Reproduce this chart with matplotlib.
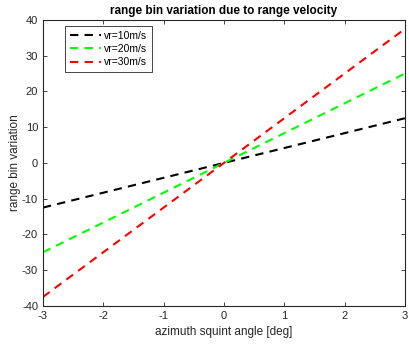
import matplotlib
matplotlib.use('Agg')
import numpy as np
import matplotlib.pyplot as plt

plt.rcParams['font.family'] = ['Liberation Sans', 'DejaVu Sans']
plt.rcParams['axes.unicode_minus'] = False

# squint angle [deg] and range bin variation for each radial velocity
squint = [-3, -2, -1, 0, 1, 2, 3]
bins_10 = [-12.5, -8.33, -4.17, 0, 4.17, 8.33, 12.5]
bins_20 = [-25, -16.67, -8.33, 0, 8.33, 16.67, 25]
bins_30 = [-37.5, -25, -12.5, 0, 12.5, 25, 37.5]
labels = ['vr=10m/s', 'vr=20m/s', 'vr=30m/s']
colors = ['k', '#00ff00', 'r']

fig = plt.figure(figsize=(4.09, 3.5), dpi=100)
ax = fig.add_axes([0.105, 0.126, 0.885, 0.817])

for ys, lab, c in zip([bins_10, bins_20, bins_30], labels, colors):
    ax.plot(squint, ys, '--', color=c, lw=1.5, dashes=(4, 3), label=lab)

ax.set_xlim(-3, 3)
ax.set_ylim(-40, 40)
ax.set_xticks(range(-3, 4))
ax.set_yticks(range(-40, 41, 10))
ax.tick_params(direction='in', top=True, right=True, labelsize=8,
               colors='#262626', length=3, width=0.6)
for s in ax.spines.values():
    s.set_linewidth(0.8)
    s.set_color('#262626')

ax.set_title('range bin variation due to range velocity', fontsize=8.5,
             fontweight='bold', pad=4)
ax.set_xlabel('azimuth squint angle [deg]', fontsize=8.5, color='#262626')
ax.set_ylabel('range bin variation', fontsize=8.5, color='#262626', labelpad=1)

leg = ax.legend(loc='upper left', bbox_to_anchor=(0.055, 0.985), fontsize=7.5,
                fancybox=False, framealpha=1, edgecolor='#262626',
                handlelength=3.0, borderpad=0.45, labelspacing=0.3,
                handletextpad=0.3, borderaxespad=0.2)
leg.get_frame().set_linewidth(0.6)

fig.savefig('out.png', dpi=100)
